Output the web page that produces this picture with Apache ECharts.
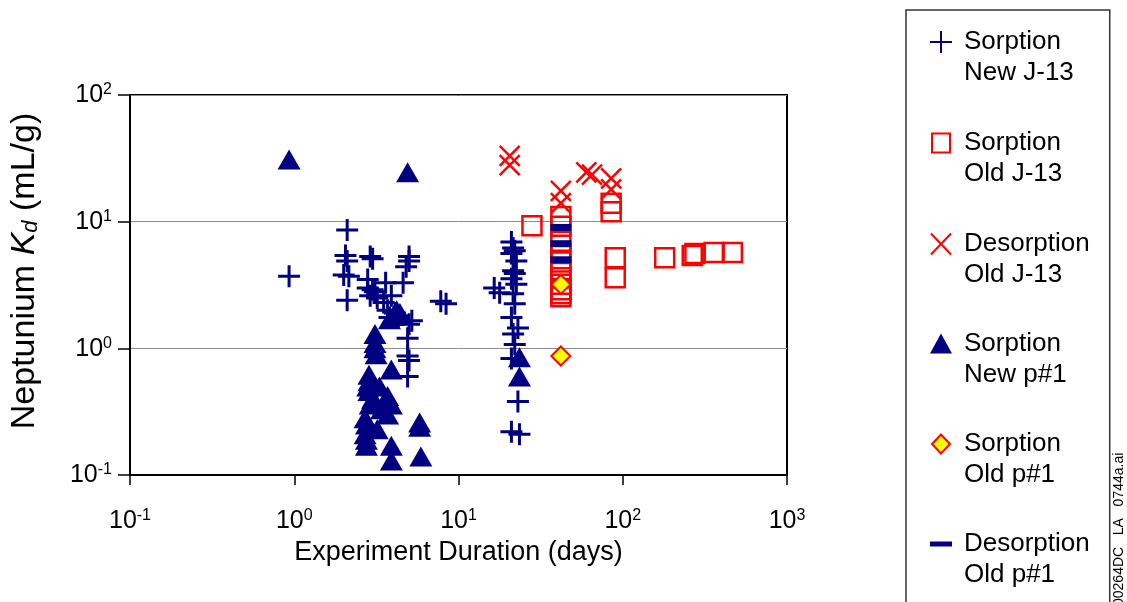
<!DOCTYPE html>
<html>
<head>
<meta charset="utf-8">
<script src="https://cdn.jsdelivr.net/npm/echarts@6/dist/echarts.min.js"></script>
<style>
html,body{margin:0;padding:0;background:#fff;}
#c{width:1127px;height:602px;}
</style>
</head>
<body>
<div id="c"></div>
<script>
// ---- data (x = experiment duration in days, y = Kd in mL/g) ----
var sorptionNewJ13 = [
  [0.93,3.7],
  [2.1,8.6],[2.05,5.4],[2.1,4.9],[2.0,3.8],[2.15,3.7],[2.1,2.4],
  [2.9,5.3],[3.0,5.1],[2.8,3.0],[3.0,2.9],[3.1,2.8],[2.9,2.6],[3.2,2.5],[2.8,3.5],
  [3.6,3.3],[3.9,2.6],[3.7,2.0],[3.5,2.3],[4.1,1.9],[4.3,1.8],[3.8,1.75],
  [5.0,5.3],[5.0,4.9],[4.8,4.4],[4.6,3.3],[5.2,1.65],[5.0,1.55],[4.9,1.2],[4.9,0.87],[5.0,0.8],[4.9,0.6],
  [7.8,2.35],[8.4,2.25],
  [16.5,3.0],[17.8,2.75],
  [21,6.9],[21.5,6.2],[22,5.9],[21,5.6],[22.5,4.9],[21.5,4.1],[22,3.9],[21,3.55],[22.5,3.2],
  [21.5,2.7],[22,2.25],[21,1.75],[23,1.45],[21.5,1.3],[22,1.07],[21,0.83],[23,0.38],[21,0.22],[23.5,0.21]
];
var sorptionOldJ13 = [
  [28,9.3],
  [42,11],[42,9.2],[42,7],[42,5.6],[42,4.8],[42,4.2],[42,3.6],[42,3.2],[42,2.9],[42,2.7],[42,2.55],
  [85,14],[85,12],
  [90,5.2],[90,3.6],
  [180,5.2],
  [265,5.4],[275,5.6],
  [360,5.7],[465,5.7]
];
var desorptionOldJ13 = [
  [20.5,33],[20.5,28],[42,17.5],[42,14],[60,24.5],[65,23.5],[85,22],[85,18]
];
var sorptionNewP1 = [
  [0.93,31],[4.9,24.5],
  [3.1,1.3],[3.1,1.1],[3.1,1.0],[3.15,0.9],[3.9,0.68],[2.85,0.62],[2.85,0.55],[2.8,0.5],
  [2.85,0.46],[3.7,0.42],[3.0,0.4],[2.9,0.36],[3.9,0.36],[3.7,0.3],[2.7,0.28],[2.75,0.25],
  [5.8,0.26],[5.8,0.24],[2.7,0.21],[3.2,0.23],[2.75,0.19],[2.75,0.17],[3.9,0.17],[3.9,0.13],
  [5.9,0.14],[4.2,2.0],[4.0,1.8],[3.8,1.7],[4.4,1.9],[23.5,0.85],[23.5,0.6],[3.3,0.5],[3.4,0.33]
];
var sorptionOldP1 = [[42,3.2],[42,0.87]];
var desorptionOldP1 = [[42,9.0],[42,6.7],[42,5.0]];

var seriesNames = ['Sorption\nNew J-13','Sorption\nOld J-13','Desorption\nOld J-13',
                   'Sorption\nNew p#1','Sorption\nOld p#1','Desorption\nOld p#1'];
var xTickExps = [-1,0,1,2,3];
var yTickExps = [-1,0,1,2];

var FONT = '"Liberation Sans", Arial, Helvetica, sans-serif';
var NAVY = '#000080', RED = '#ff0000';
var EXT = ' M0,0M29,62';

function powLabel(v){
  var e = Math.round(Math.log(v)/Math.LN10);
  return '{b|10}{s|' + e + '}';
}
var tickRich = {
  b:{fontSize:25, lineHeight:26, fontFamily:FONT, color:'#000', verticalAlign:'bottom'},
  s:{fontSize:16, lineHeight:16, fontFamily:FONT, color:'#000', verticalAlign:'top'}
};

var chart = echarts.init(document.getElementById('c'), null, {renderer:'canvas'});
var option = {
  animation:false,
  backgroundColor:'#fff',
  grid:{left:130, right:340, top:95, bottom:127, containLabel:false, outerBoundsMode:'none',
        show:true, borderColor:'#000', borderWidth:2, backgroundColor:'transparent'},
  xAxis:{
    type:'log', logBase:10, min:Math.pow(10,xTickExps[0]), max:Math.pow(10,xTickExps[xTickExps.length-1]),
    name:'Experiment Duration (days)', nameLocation:'middle', nameGap:64,
    nameTextStyle:{fontSize:27, fontFamily:FONT, color:'#000'},
    axisLine:{lineStyle:{color:'#000', width:2}},
    axisTick:{show:true, length:10, lineStyle:{color:'#000', width:1.5}},
    minorTick:{show:false},
    splitLine:{show:false},
    axisLabel:{formatter:powLabel, rich:tickRich, margin:33}
  },
  yAxis:{
    type:'log', logBase:10, min:Math.pow(10,yTickExps[0]), max:Math.pow(10,yTickExps[yTickExps.length-1]),
    name:'{n|Neptunium }{k|K}{d|d}{n| (mL/g)}', nameLocation:'middle', nameGap:88,
    nameTextStyle:{fontSize:34, fontFamily:FONT, color:'#000', padding:[0,0,0,28],
      rich:{
        n:{fontSize:34, fontFamily:FONT, color:'#000'},
        k:{fontSize:34, fontFamily:FONT, color:'#000', fontStyle:'italic'},
        d:{fontSize:22, fontFamily:FONT, color:'#000', fontStyle:'italic', verticalAlign:'bottom'}
      }},
    axisLine:{lineStyle:{color:'#000', width:2}},
    axisTick:{show:true, length:12, lineStyle:{color:'#000', width:1.5}},
    minorTick:{show:false},
    splitLine:{show:true, lineStyle:{color:'#8c8c8c', width:1}},
    axisLabel:{formatter:powLabel, rich:tickRich, margin:18}
  },
  legend:{
    orient:'vertical', left:906, top:10, height:700,
    padding:[15.5, 20, 40, 23],
    itemGap:37, itemWidth:29, itemHeight:62,
    borderColor:'#333', borderWidth:1.5, backgroundColor:'#fff',
    selectedMode:false,
    textStyle:{fontSize:26, lineHeight:31, fontFamily:FONT, color:'#000'},
    data:[
      {name:seriesNames[0], icon:'path://M11,4.5V26.5M0,15.5H22'+EXT},
      {name:seriesNames[1], icon:'path://M2,6H20V25H2Z'+EXT},
      {name:seriesNames[2], icon:'path://M1,5L21,26M21,5L1,26'+EXT},
      {name:seriesNames[3], icon:'path://M11,5L22,25H0Z'+EXT},
      {name:seriesNames[4], icon:'path://M11,6L20,15.5L11,25L2,15.5Z'+EXT},
      {name:seriesNames[5], icon:'path://M0,13H22V18H0Z'+EXT}
    ]
  },
  graphic:[{
    type:'text', left:1112, bottom:-4, rotation:Math.PI/2, z:100,
    style:{text:'00264DC   LA   0744a.ai', font:'14px '+FONT, fill:'#000'}
  }],
  series:[
    {name:seriesNames[0], type:'scatter', data:sorptionNewJ13,
     symbol:'path://M0,-1V1M-1,0H1', symbolSize:22,
     itemStyle:{color:'rgba(0,0,0,0)', borderColor:NAVY, borderWidth:3, opacity:1}},
    {name:seriesNames[1], type:'scatter', data:sorptionOldJ13,
     symbol:'rect', symbolSize:19,
     itemStyle:{color:'rgba(0,0,0,0)', borderColor:RED, borderWidth:2.5, opacity:1}},
    {name:seriesNames[2], type:'scatter', data:desorptionOldJ13,
     symbol:'path://M-1,-1L1,1M1,-1L-1,1', symbolSize:20,
     itemStyle:{color:'rgba(0,0,0,0)', borderColor:RED, borderWidth:2.5, opacity:1}},
    {name:seriesNames[3], type:'scatter', data:sorptionNewP1,
     symbol:'triangle', symbolSize:[23,20],
     itemStyle:{color:NAVY, borderWidth:0, opacity:1}},
    {name:seriesNames[4], type:'scatter', data:sorptionOldP1,
     symbol:'diamond', symbolSize:19,
     itemStyle:{color:'#ffff00', borderColor:RED, borderWidth:2, opacity:1}},
    {name:seriesNames[5], type:'scatter', data:desorptionOldP1,
     symbol:'rect', symbolSize:[21,7],
     itemStyle:{color:NAVY, borderWidth:0, opacity:1}}
  ]
};
chart.setOption(option);
</script>
</body>
</html>
